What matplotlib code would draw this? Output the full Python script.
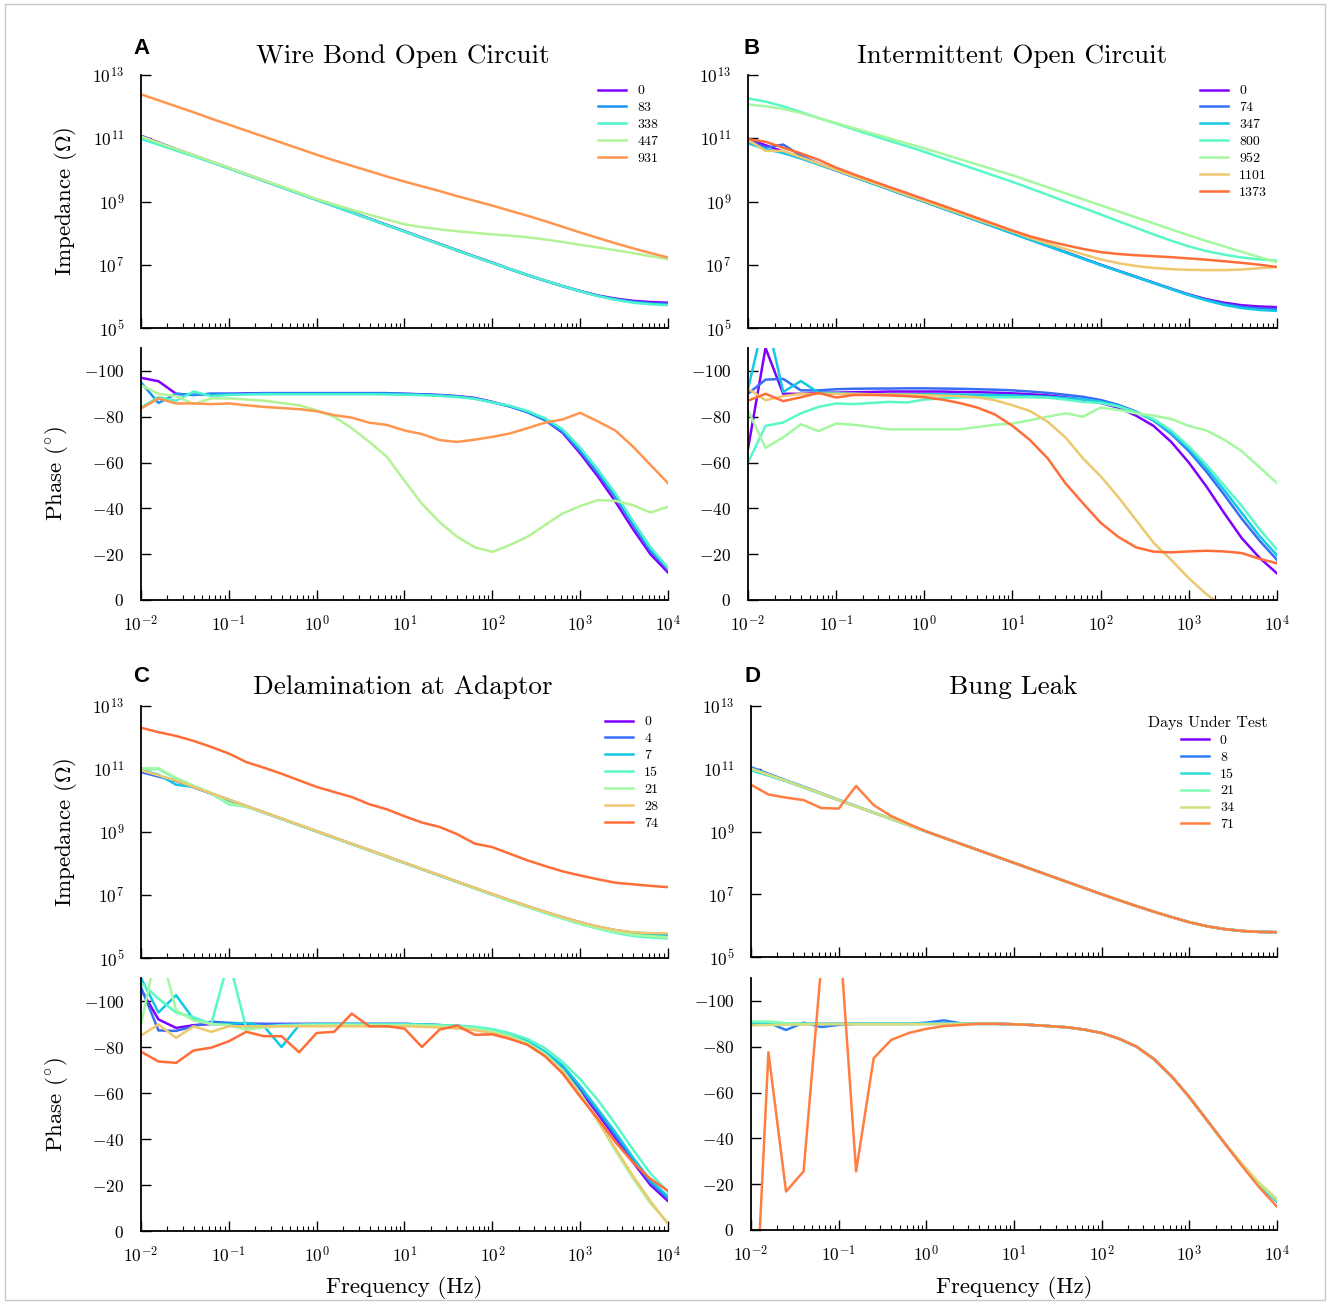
import numpy as np
import matplotlib
matplotlib.use('Agg')
import matplotlib.pyplot as plt
from matplotlib.ticker import FixedLocator, FuncFormatter, LogLocator, NullLocator
from matplotlib.patches import Rectangle

plt.rcParams['font.family'] = ['cmr10', 'DejaVu Serif']
plt.rcParams['mathtext.fontset'] = 'cm'
plt.rcParams['axes.unicode_minus'] = False
plt.rcParams['axes.formatter.use_mathtext'] = True

# ---------------- data ----------------
freq = [0.01, 0.0158, 0.0251, 0.0398, 0.0631, 0.1, 0.158, 0.251, 0.398, 0.631,
        1.0, 1.58, 2.51, 3.98, 6.31, 10.0, 15.8, 25.1, 39.8, 63.1,
        100.0, 158.0, 251.0, 398.0, 631.0, 1000.0, 1585.0, 2512.0, 3981.0, 6310.0, 10000.0]

# Panel A: Wire Bond Open Circuit
A_days = ['0', '83', '338', '447', '931']
A_logz = [
    [11.08,10.87,10.66,10.46,10.26,10.06,9.86,9.66,9.46,9.26,9.06,8.86,8.66,8.46,8.26,8.06,7.86,7.66,7.46,7.26,7.07,6.87,6.68,6.50,6.33,6.17,6.03,5.93,5.86,5.82,5.80],
    [11.02,10.83,10.64,10.45,10.25,10.05,9.85,9.65,9.45,9.25,9.05,8.85,8.65,8.45,8.25,8.05,7.85,7.65,7.45,7.25,7.06,6.86,6.67,6.49,6.32,6.16,6.02,5.91,5.83,5.78,5.76],
    [10.98,10.80,10.61,10.43,10.24,10.05,9.85,9.65,9.45,9.25,9.05,8.85,8.65,8.45,8.25,8.05,7.85,7.65,7.45,7.25,7.06,6.87,6.68,6.50,6.33,6.16,6.01,5.89,5.80,5.75,5.72],
    [11.06,10.86,10.66,10.47,10.27,10.07,9.87,9.67,9.48,9.28,9.08,8.91,8.74,8.58,8.43,8.28,8.19,8.12,8.06,8.01,7.96,7.92,7.87,7.80,7.72,7.63,7.55,7.46,7.37,7.27,7.18],
    [12.39,12.20,12.01,11.82,11.62,11.43,11.24,11.05,10.86,10.67,10.48,10.30,10.13,9.96,9.79,9.63,9.48,9.33,9.17,9.02,8.87,8.71,8.55,8.38,8.20,8.02,7.85,7.68,7.52,7.37,7.23],
]
A_phase = [
    [-97,-95.5,-90,-89.5,-90,-90,-90.2,-90.3,-90.3,-90.3,-90.3,-90.3,-90.3,-90.3,-90.3,-90,-89.8,-89.5,-89,-88.2,-86.5,-84.5,-82,-78.5,-73,-64,-54,-43,-31,-20,-12],
    [-95,-86,-90,-89.5,-90,-90,-90,-90.2,-90.2,-90.2,-90.2,-90.2,-90.2,-90.2,-90.2,-90,-89.7,-89.4,-88.9,-88,-86.3,-84.5,-82,-78.5,-73.5,-65,-55.5,-45,-33,-21.5,-13.5],
    [-84,-88.5,-87,-91,-89,-89.5,-89.7,-89.8,-89.8,-89.8,-89.8,-89.8,-89.8,-89.8,-89.7,-89.6,-89.4,-89.1,-88.6,-87.8,-86.3,-84.8,-82.5,-79.3,-74.5,-66.5,-57,-46.5,-34.5,-23,-14],
    [-93.8,-90,-89,-85.5,-88,-88,-87.5,-87,-86,-85,-82.8,-80,-75,-69,-62.5,-52,-42,-34,-27.6,-23,-21,-24,-27.6,-32.7,-37.8,-41,-43.6,-43.3,-41.4,-38.2,-40.7],
    [-83.6,-88,-85.8,-85.8,-85.5,-85.8,-85,-84.3,-83.8,-83.3,-82.4,-80.7,-79.6,-77.4,-76.4,-74,-72.4,-69.8,-69,-70,-71.2,-72.7,-75,-77.4,-78.8,-81.7,-78,-74,-67,-59,-51],
]

# Panel B: Intermittent Open Circuit
B_days = ['0', '74', '347', '800', '952', '1101', '1373']
B_logz = [
    [10.98,10.78,10.58,10.38,10.18,9.98,9.78,9.59,9.39,9.19,9.00,8.80,8.60,8.40,8.20,8.00,7.80,7.60,7.40,7.20,7.00,6.81,6.62,6.43,6.24,6.06,5.91,5.80,5.72,5.68,5.66],
    [10.95,10.70,10.80,10.45,10.20,9.99,9.79,9.59,9.39,9.19,9.00,8.80,8.60,8.40,8.20,8.00,7.80,7.60,7.40,7.20,7.00,6.81,6.62,6.43,6.24,6.05,5.89,5.76,5.67,5.62,5.60],
    [10.84,10.66,10.53,10.36,10.17,9.98,9.78,9.58,9.38,9.18,8.99,8.79,8.59,8.39,8.19,7.99,7.79,7.59,7.39,7.19,6.99,6.80,6.61,6.42,6.23,6.04,5.87,5.73,5.63,5.57,5.54],
    [12.26,12.16,12.01,11.83,11.64,11.46,11.28,11.10,10.92,10.75,10.57,10.38,10.19,10.00,9.81,9.62,9.42,9.21,9.00,8.80,8.59,8.38,8.17,7.96,7.76,7.58,7.43,7.32,7.23,7.17,7.13],
    [12.07,12.01,11.93,11.80,11.64,11.48,11.32,11.16,11.00,10.84,10.68,10.51,10.34,10.17,10.00,9.83,9.64,9.45,9.26,9.07,8.88,8.69,8.50,8.31,8.12,7.93,7.75,7.58,7.41,7.24,7.08],
    [10.95,10.60,10.60,10.40,10.20,10.00,9.80,9.61,9.41,9.21,9.02,8.82,8.63,8.43,8.24,8.05,7.85,7.67,7.50,7.33,7.17,7.05,6.96,6.90,6.86,6.84,6.83,6.83,6.85,6.89,6.93],
    [10.97,10.89,10.70,10.52,10.32,10.07,9.86,9.66,9.46,9.27,9.07,8.88,8.68,8.48,8.28,8.08,7.90,7.75,7.62,7.50,7.40,7.34,7.30,7.27,7.24,7.20,7.16,7.11,7.06,7.00,6.93],
]
B_phase = [
    [-66,-110,-90,-90,-90.5,-90.5,-90.7,-90.8,-91,-91,-91,-91,-90.8,-90.7,-90.5,-90.2,-89.8,-89.3,-88.5,-87.5,-86,-84,-80.5,-76,-69,-60,-49.5,-38,-27,-18.5,-11.6],
    [-90,-96.2,-96.5,-91.5,-91.5,-92,-92.2,-92.3,-92.3,-92.4,-92.4,-92.3,-92.2,-92,-91.8,-91.5,-91,-90.4,-89.6,-88.7,-87.3,-85.2,-82.3,-78.3,-72.5,-65,-56,-46,-35.5,-26,-17.5],
    [-92,-125,-90.8,-95.6,-90.5,-90.3,-90,-89.8,-89.8,-89.8,-89.8,-89.8,-89.7,-89.6,-89.5,-89.3,-89,-88.7,-88.2,-87.6,-86.6,-84.8,-82,-78.5,-73,-66,-57.5,-48,-38,-28,-19.5],
    [-60,-76,-77.5,-81.5,-84.3,-85.8,-85.5,-86,-86.5,-86.2,-87.5,-88,-88.5,-88.5,-88.5,-88.5,-88.5,-88.3,-87.5,-86.5,-86,-84.5,-82,-79,-74,-67,-59,-50,-41,-31,-22],
    [-82.8,-66.4,-71,-76.7,-73.7,-77,-76.5,-75.5,-74.5,-74.5,-74.5,-74.5,-74.5,-75.5,-76.5,-77,-78.5,-80,-81.5,-80,-84,-83,-81.5,-80.5,-79,-76,-74,-70,-65,-58,-51],
    [-92.3,-87.2,-89,-90,-90,-90,-90,-89.8,-89.7,-89.6,-89.4,-89.2,-89,-88.5,-87.2,-85,-82.5,-77.8,-71,-61.8,-54,-45,-35,-25,-17.5,-9.5,-2.5,3,8,12,15],
    [-87,-90,-86.8,-88.5,-90.4,-88.4,-89.5,-89.5,-89.3,-89,-88.5,-87.5,-86,-84,-81,-76,-69.8,-61.8,-51,-42.2,-33.7,-27.6,-23,-21.1,-20.8,-21.2,-21.5,-21.2,-20.5,-18,-16],
]

# Panel C: Delamination at Adaptor
C_days = ['0', '4', '7', '15', '21', '28', '74']
C_logz = [
    [10.93,10.78,10.62,10.42,10.22,10.02,9.82,9.62,9.42,9.22,9.02,8.82,8.62,8.42,8.22,8.02,7.82,7.62,7.42,7.22,7.02,6.83,6.64,6.46,6.29,6.13,5.99,5.88,5.80,5.76,5.74],
    [10.90,10.76,10.62,10.43,10.22,10.02,9.82,9.62,9.42,9.22,9.02,8.82,8.62,8.42,8.22,8.02,7.82,7.62,7.42,7.22,7.02,6.83,6.64,6.46,6.29,6.13,5.99,5.88,5.80,5.76,5.73],
    [10.96,10.82,10.50,10.43,10.23,10.00,9.82,9.62,9.42,9.22,9.02,8.82,8.62,8.42,8.22,8.02,7.82,7.62,7.42,7.22,7.02,6.83,6.64,6.46,6.28,6.12,5.97,5.85,5.77,5.72,5.70],
    [11.00,11.00,10.70,10.45,10.22,9.88,9.80,9.62,9.42,9.22,9.02,8.82,8.62,8.42,8.22,8.02,7.82,7.62,7.42,7.21,7.01,6.81,6.62,6.43,6.25,6.08,5.93,5.80,5.70,5.65,5.62],
    [11.02,11.02,10.72,10.47,10.24,9.90,9.81,9.62,9.42,9.22,9.02,8.82,8.62,8.42,8.22,8.02,7.82,7.62,7.42,7.22,7.02,6.82,6.63,6.45,6.27,6.10,5.95,5.83,5.74,5.69,5.66],
    [10.96,10.80,10.63,10.43,10.23,10.03,9.83,9.63,9.43,9.23,9.03,8.83,8.63,8.43,8.23,8.03,7.83,7.63,7.43,7.23,7.03,6.84,6.65,6.47,6.30,6.14,6.00,5.89,5.82,5.79,5.78],
    [12.31,12.17,12.05,11.89,11.70,11.49,11.22,11.04,10.85,10.64,10.43,10.27,10.11,9.88,9.72,9.50,9.30,9.16,8.93,8.63,8.52,8.31,8.10,7.92,7.75,7.62,7.50,7.39,7.34,7.29,7.25],
]
C_phase = [
    [-105,-92,-88.3,-89.5,-90,-90,-90,-90,-90,-90,-90,-90,-90,-90,-90,-90,-89.8,-89.5,-89.2,-88.5,-87.3,-85,-82,-77,-70,-61,-51,-40.5,-30,-20,-13],
    [-106,-87.2,-87,-89,-91,-90.5,-90.2,-90,-90,-90,-90,-90,-90,-90,-90,-90,-89.8,-89.5,-89.2,-88.5,-87.3,-85,-82,-77.5,-71,-62,-52,-41.5,-31,-21,-14],
    [-110,-95,-102.5,-92,-90,-90,-90.5,-89,-80,-89.5,-90,-90,-90,-90,-90,-90,-89.8,-89.5,-89.2,-88.5,-87.3,-85.2,-82.5,-78,-72,-63,-53,-43,-32,-22,-15],
    [-108,-101,-95,-93,-90,-118,-88,-89,-89.5,-89.7,-89.8,-89.8,-89.8,-89.8,-89.8,-89.8,-89.7,-89.5,-89.3,-88.8,-87.8,-86,-83.5,-79.5,-73.5,-66,-57,-46.5,-35.5,-25,-17],
    [-90,-125,-96,-91.5,-90,-89.5,-87.5,-88.5,-89,-89.3,-89.5,-89.5,-89.5,-89.5,-89.5,-89.5,-89.3,-89,-88.7,-88,-86.8,-84.8,-81.8,-77,-70,-60,-48,-35,-23,-12,-3.5],
    [-85,-89.8,-84,-89,-86.6,-89,-89,-89,-89,-89,-89,-89,-89,-89,-89,-89,-88.8,-88.5,-88,-87.3,-86,-84,-81,-76,-69,-59,-48,-36,-24,-13,-3],
    [-78,-73.7,-73.1,-78.5,-79.7,-82.5,-86.6,-84.7,-84.7,-77.7,-86.1,-86.6,-94.5,-89,-89,-88,-80,-87.6,-89.3,-85.3,-85.5,-83.5,-81,-76,-68.5,-58.4,-48.9,-38.7,-29.9,-22.6,-17.5],
]

# Panel D: Bung Leak
D_days = ['0', '8', '15', '21', '34', '71']
D_logz = [
    [11.02,10.82,10.62,10.42,10.21,10.00,9.80,9.60,9.40,9.20,9.00,8.80,8.60,8.40,8.20,8.00,7.80,7.60,7.40,7.20,7.00,6.81,6.62,6.44,6.27,6.11,5.98,5.89,5.83,5.80,5.79],
    [11.05,10.84,10.63,10.43,10.22,10.01,9.81,9.60,9.40,9.20,9.00,8.80,8.60,8.40,8.20,8.00,7.80,7.60,7.40,7.20,7.00,6.81,6.62,6.44,6.27,6.11,5.98,5.89,5.83,5.80,5.79],
    [10.95,10.78,10.60,10.40,10.20,10.00,9.80,9.60,9.40,9.20,9.00,8.80,8.60,8.40,8.20,8.00,7.80,7.60,7.40,7.20,7.00,6.81,6.62,6.44,6.27,6.11,5.98,5.89,5.83,5.80,5.79],
    [11.00,10.81,10.62,10.42,10.21,10.00,9.80,9.60,9.40,9.20,9.00,8.80,8.60,8.40,8.20,8.00,7.80,7.60,7.40,7.20,7.00,6.81,6.62,6.44,6.27,6.11,5.98,5.89,5.83,5.80,5.79],
    [11.00,10.81,10.61,10.41,10.21,10.00,9.80,9.60,9.40,9.20,9.00,8.80,8.60,8.40,8.20,8.00,7.80,7.60,7.40,7.20,7.00,6.81,6.62,6.44,6.27,6.11,5.98,5.89,5.83,5.80,5.79],
    [10.49,10.18,10.08,10.00,9.75,9.73,10.45,9.84,9.49,9.24,9.00,8.80,8.60,8.40,8.20,8.00,7.80,7.60,7.40,7.20,7.00,6.81,6.62,6.44,6.27,6.11,5.98,5.89,5.83,5.80,5.79],
]
D_phase = [
    [-90,-90,-90,-90,-90,-90,-90,-90,-90,-90,-90,-90,-90,-90,-90,-89.8,-89.5,-89,-88.5,-87.5,-86,-83.5,-80,-74.5,-67,-58,-48,-38,-28.5,-19.5,-12.5],
    [-90.5,-90.5,-87.3,-90.5,-88.6,-89.5,-90,-90,-90,-90,-90.5,-91.5,-90.2,-90,-90,-89.8,-89.5,-89,-88.5,-87.5,-86,-83.5,-80,-74.5,-67,-58,-48,-38,-28.5,-19.5,-12.5],
    [-90.5,-90.5,-90,-90,-90,-90,-90,-90,-90,-90,-90,-90,-90,-90,-90,-89.8,-89.5,-89,-88.5,-87.5,-86,-83.5,-80,-74.5,-67,-58,-48,-38,-28.5,-19.5,-12.5],
    [-91,-91,-90.3,-90,-90,-90,-90,-90,-90,-90,-90,-90,-90,-90,-90,-89.8,-89.5,-89,-88.5,-87.5,-86,-83.5,-80,-74.5,-67,-58,-48,-38,-28.8,-20,-13],
    [-89.3,-89.5,-89.6,-89.7,-89.8,-89.8,-89.8,-89.8,-89.8,-89.8,-89.8,-89.9,-90,-90,-90,-89.8,-89.5,-89,-88.5,-87.5,-86,-83.5,-80,-74.5,-67,-58,-48,-38,-29,-20.5,-13.5],
    [80,-77.6,-16.8,-25.6,-115,-135,-25.6,-75,-83,-86,-87.8,-89,-89.5,-90,-90,-89.8,-89.5,-89,-88.5,-87.5,-86,-83.5,-80,-74.5,-67,-58,-48,-38,-28,-18.5,-10.2],
]

titles = ['Wire Bond Open Circuit', 'Intermittent Open Circuit',
          'Delamination at Adaptor', 'Bung Leak']
letters = ['A', 'B', 'C', 'D']
x_ticks = [1e-2, 1e-1, 1e0, 1e1, 1e2, 1e3, 1e4]
imp_ticks = [1e5, 1e7, 1e9, 1e11, 1e13]
phase_ticks = [0, -20, -40, -60, -80, -100]

# ---------------- layout ----------------
W, H = 1328, 1304
fig = plt.figure(figsize=(W / 100, H / 100), dpi=100)
fig.patches.append(Rectangle((5 / W, 4 / H), 1320 / W, 1296 / H, transform=fig.transFigure,
                             fill=False, edgecolor='#c8c8c8', lw=1.0))


def rect(l, t, r, b):
    return [l / W, 1 - b / H, (r - l) / W, (b - t) / H]


panels = [
    dict(days=A_days, logz=A_logz, phase=A_phase, lr=(141, 668), imp=(75, 328), ph=(348, 600),
         ylab=True, xlab=False, ltitle=None, letter=(141, 48), title=(403, 56)),
    dict(days=B_days, logz=B_logz, phase=B_phase, lr=(748, 1277), imp=(75, 328), ph=(348, 600),
         ylab=False, xlab=False, ltitle=None, letter=(752, 48), title=(1012, 56)),
    dict(days=C_days, logz=C_logz, phase=C_phase, lr=(141, 668), imp=(706, 958), ph=(978, 1231),
         ylab=True, xlab=True, ltitle=None, letter=(141, 677), title=(403, 687)),
    dict(days=D_days, logz=D_logz, phase=D_phase, lr=(751, 1277), imp=(706, 957), ph=(978, 1230),
         ylab=False, xlab=True, ltitle='Days Under Test', letter=(752, 677), title=(1013, 687)),
]

logfmt = FuncFormatter(lambda v, p: r'$10^{%d}$' % int(round(np.log10(v))))
phfmt = FuncFormatter(lambda v, p: r'$%d$' % int(round(v)))


def style(ax):
    for s in ['top', 'right']:
        ax.spines[s].set_visible(False)
    for s in ['left', 'bottom']:
        ax.spines[s].set_linewidth(1.3)
    ax.set_xscale('log')
    ax.set_xlim(1e-2, 1e4)
    ax.xaxis.set_major_locator(FixedLocator(x_ticks))
    ax.xaxis.set_minor_locator(LogLocator(base=10, subs=np.arange(2, 10), numticks=30))
    ax.xaxis.set_major_formatter(logfmt)
    ax.yaxis.set_minor_locator(NullLocator())
    ax.tick_params(which='major', direction='in', length=7, width=1.0, labelsize=12.5, pad=10)
    ax.tick_params(which='minor', direction='in', length=3.5, width=0.8)
    ax.tick_params(axis='y', pad=12)


for i, P in enumerate(panels):
    n = len(P['days'])
    colors = [plt.cm.rainbow(j / n) for j in range(n)]
    l, r = P['lr']
    ax1 = fig.add_axes(rect(l, P['imp'][0], r, P['imp'][1]))
    ax2 = fig.add_axes(rect(l, P['ph'][0], r, P['ph'][1]))
    for j in range(n):
        ax1.plot(freq, 10.0 ** np.array(P['logz'][j]), color=colors[j], lw=1.8, label=P['days'][j])
        ax2.plot(freq, P['phase'][j], color=colors[j], lw=1.8)
    style(ax1)
    style(ax2)
    ax1.set_yscale('log')
    ax1.set_ylim(1e5, 1e13)
    ax1.yaxis.set_major_locator(FixedLocator(imp_ticks))
    ax1.yaxis.set_minor_locator(NullLocator())
    ax1.yaxis.set_major_formatter(logfmt)
    ax1.tick_params(labelbottom=False)
    ax2.set_ylim(0, -110)
    ax2.yaxis.set_major_locator(FixedLocator(phase_ticks))
    ax2.yaxis.set_major_formatter(phfmt)

    if P['ylab']:
        ax1.set_ylabel(r'Impedance $(\Omega)$', fontsize=16.5)
        ax1.yaxis.set_label_coords((79 - l) / (r - l), 0.5)
        ax2.set_ylabel(r'Phase $(^{\circ})$', fontsize=16.5)
        ax2.yaxis.set_label_coords((70 - l) / (r - l), 0.5)
    if P['xlab']:
        ax2.set_xlabel('Frequency (Hz)', fontsize=16.5)
        hh = P['ph'][1] - P['ph'][0]
        ax2.xaxis.set_label_coords(0.5, -(1276 - P['ph'][1]) / hh)

    ax1.legend(loc='upper right', bbox_to_anchor=(1.0, 1.0), frameon=False, fontsize=10,
               handlelength=2.0, labelspacing=0.3, borderaxespad=0.3,
               title=P['ltitle'], title_fontsize=11.5)

    fig.text(P['letter'][0] / W, 1 - P['letter'][1] / H, letters[i], fontsize=16,
             fontweight='bold', family='Liberation Sans', ha='center', va='center')
    fig.text(P['title'][0] / W, 1 - P['title'][1] / H, titles[i], fontsize=19.5,
             ha='center', va='center')

fig.savefig('out.png', dpi=100)
